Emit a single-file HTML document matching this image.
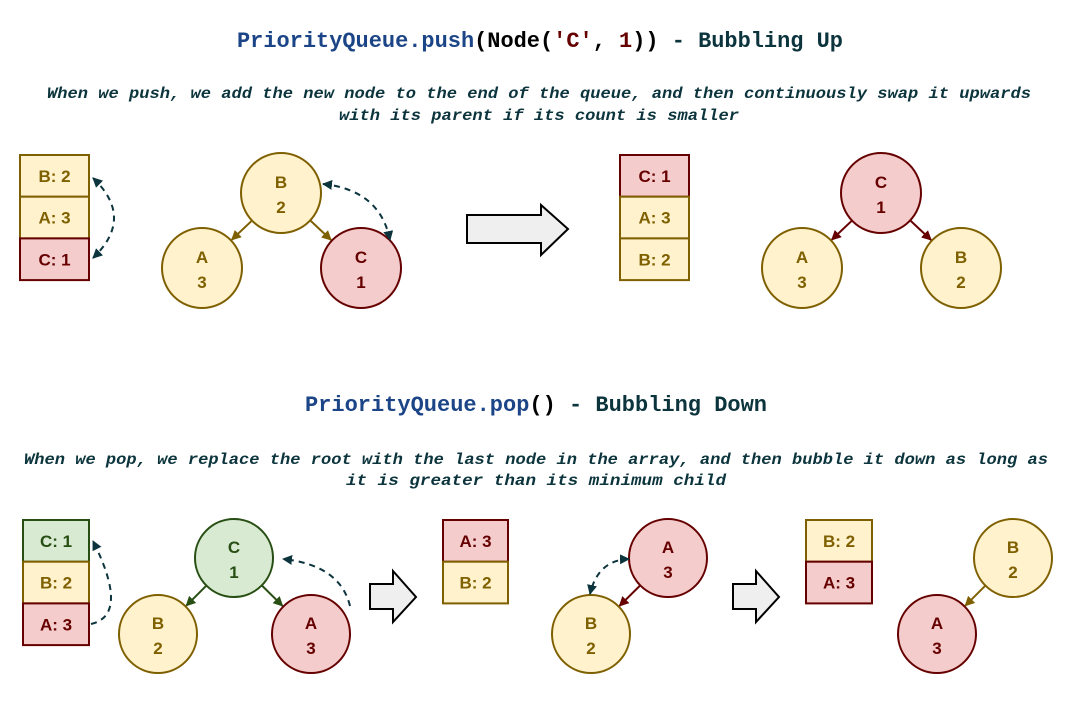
<!DOCTYPE html>
<html><head><meta charset="utf-8"><style>
html,body{margin:0;padding:0;background:#fff}
svg{display:block}
.t{font-family:"Liberation Mono",monospace;font-weight:bold}
.s{font-family:"Liberation Mono",monospace;font-style:italic;font-weight:bold;fill:#0c343d;font-size:16px}
.n{font-family:"Liberation Sans",sans-serif;font-weight:bold;font-size:17px}
</style></head><body>
<svg id="svg" width="1079" height="707" viewBox="0 0 1079 707" xmlns="http://www.w3.org/2000/svg">
<defs>
<marker id="m-y" viewBox="0 0 10 10" refX="9" refY="5" markerWidth="5" markerHeight="5" orient="auto-start-reverse"><path d="M0,0L10,5L0,10z" fill="#7f6000"/></marker>
<marker id="m-r" viewBox="0 0 10 10" refX="9" refY="5" markerWidth="5" markerHeight="5" orient="auto-start-reverse"><path d="M0,0L10,5L0,10z" fill="#660000"/></marker>
<marker id="m-g" viewBox="0 0 10 10" refX="9" refY="5" markerWidth="5" markerHeight="5" orient="auto-start-reverse"><path d="M0,0L10,5L0,10z" fill="#274e13"/></marker>
<marker id="m-d" viewBox="0 0 10 10" refX="9" refY="5" markerWidth="5" markerHeight="5" orient="auto-start-reverse"><path d="M0,0L10,5L0,10z" fill="#0c343d"/></marker>
</defs>
<text class="t" x="540" y="47" font-size="22" text-anchor="middle" textLength="606" lengthAdjust="spacingAndGlyphs"><tspan fill="#1c4587">PriorityQueue.push</tspan><tspan fill="#000">(Node(</tspan><tspan fill="#660000">'C'</tspan><tspan fill="#000">, </tspan><tspan fill="#660000">1</tspan><tspan fill="#000">))</tspan><tspan fill="#0c343d"> - Bubbling Up</tspan></text>
<text class="s" x="539" y="98" text-anchor="middle" textLength="984" lengthAdjust="spacingAndGlyphs">When we push, we add the new node to the end of the queue, and then continuously swap it upwards</text>
<text class="s" x="539" y="120" text-anchor="middle" textLength="400" lengthAdjust="spacingAndGlyphs">with its parent if its count is smaller</text>
<text class="t" x="536" y="411" font-size="22" text-anchor="middle" textLength="462" lengthAdjust="spacingAndGlyphs"><tspan fill="#1c4587">PriorityQueue.pop</tspan><tspan fill="#000">()</tspan><tspan fill="#0c343d"> - Bubbling Down</tspan></text>
<text class="s" x="536" y="464" text-anchor="middle" textLength="1024" lengthAdjust="spacingAndGlyphs">When we pop, we replace the root with the last node in the array, and then bubble it down as long as</text>
<text class="s" x="536" y="485" text-anchor="middle" textLength="380" lengthAdjust="spacingAndGlyphs">it is greater than its minimum child</text>
<g id="g"></g>
<path d="M467,215H541V205L568,229L541,255V243H467Z" fill="#efefef" stroke="#000" stroke-width="2"/>
<path d="M370,584H393V571L416,597L393,622V609H370Z" fill="#efefef" stroke="#000" stroke-width="2"/>
<path d="M733,584H756V571L779,597L756,622V609H733Z" fill="#efefef" stroke="#000" stroke-width="2"/>
<g fill="none" stroke="#0c343d" stroke-width="2" stroke-dasharray="6,5">
<path d="M93,178Q135,218 93,258" marker-start="url(#m-d)" marker-end="url(#m-d)"/>
<path d="M323,184Q380,190 390,240" marker-start="url(#m-d)" marker-end="url(#m-d)"/>
<path d="M91,624Q130,615 93,541" marker-end="url(#m-d)"/>
<path d="M350,606Q340,565 283,559" marker-end="url(#m-d)"/>
<path d="M629,559Q598,560 590,594" marker-start="url(#m-d)" marker-end="url(#m-d)"/>
</g>
</svg>
<script>
const C={y:['#fff2cc','#7f6000','m-y'],r:['#f4cccc','#660000','m-r'],g:['#d9ead3','#274e13','m-g']};
const g=document.getElementById('g');
const NS='http://www.w3.org/2000/svg';
function mk(t,a){const e=document.createElementNS(NS,t);for(const k in a)e.setAttribute(k,a[k]);g.appendChild(e);return e;}
function arr(x,y,w,rows,name){rows.forEach((r,i)=>{const c=C[r[1]];
const rc=mk('rect',{x:x,y:y+i*41.7,width:w,height:41.7,fill:c[0],stroke:c[1],'stroke-width':2});


const t=mk('text',{x:x+w/2,y:y+i*41.7+27,'text-anchor':'middle',class:'n',fill:c[1]});t.textContent=r[0];

});}
function node(x,y,r,l,v,col,name){const c=C[col];
const ci=mk('circle',{cx:x,cy:y,r:r,fill:c[0],stroke:c[1],'stroke-width':2});


const t1=mk('text',{x:x,y:y-5,'text-anchor':'middle',class:'n',fill:c[1]});t1.textContent=l;


const t2=mk('text',{x:x,y:y+20,'text-anchor':'middle',class:'n',fill:c[1]});t2.textContent=v;

}
function edge(a,b,r,col,name){const dx=b[0]-a[0],dy=b[1]-a[1],L=Math.hypot(dx,dy),ux=dx/L,uy=dy/L;const c=C[col];
const l=mk('line',{x1:a[0]+ux*r,y1:a[1]+uy*r,x2:b[0]-ux*(r+1),y2:b[1]-uy*(r+1),stroke:c[1],'stroke-width':2,'marker-end':'url(#'+c[2]+')'});

}
arr(20,155,69,[['B: 2','y'],['A: 3','y'],['C: 1','r']],'array-before-push');
edge([281,193],[202,268],40,'y','edge-b-a');edge([281,193],[361,268],40,'y','edge-b-c');
node(281,193,40,'B','2','y','node-b');node(202,268,40,'A','3','y','node-a');node(361,268,40,'C','1','r','node-c');
arr(620,155,69,[['C: 1','r'],['A: 3','y'],['B: 2','y']],'array-after-push');
edge([881,193],[802,268],40,'r','edge-c-a');edge([881,193],[961,268],40,'r','edge-c-b');
node(881,193,40,'C','1','r','node-c-root');node(802,268,40,'A','3','y','node-a-left');node(961,268,40,'B','2','y','node-b-right');
arr(23,520,66,[['C: 1','g'],['B: 2','y'],['A: 3','r']],'array-before-pop');
edge([234,558],[158,634],39,'g','edge-c-b-pop');edge([234,558],[311,634],39,'g','edge-c-a-pop');
node(234,558,39,'C','1','g','node-c-pop');node(158,634,39,'B','2','y','node-b-pop');node(311,634,39,'A','3','r','node-a-pop');
arr(443,520,65,[['A: 3','r'],['B: 2','y']],'array-mid-pop');
edge([668,558],[591,634],39,'r','edge-a-b-mid');
node(668,558,39,'A','3','r','node-a-mid');node(591,634,39,'B','2','y','node-b-mid');
arr(806,520,66,[['B: 2','y'],['A: 3','r']],'array-after-pop');
edge([1013,558],[937,634],39,'y','edge-b-a-final');
node(1013,558,39,'B','2','y','node-b-final');node(937,634,39,'A','3','r','node-a-final');
</script>
</body></html>
